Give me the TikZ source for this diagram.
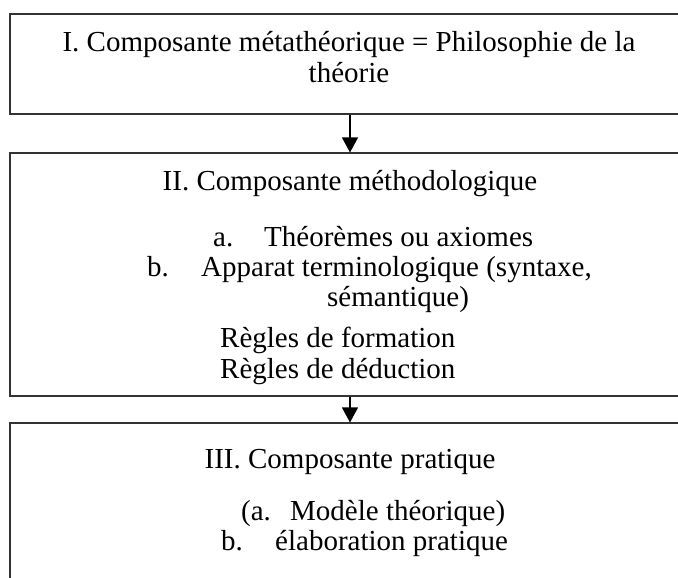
\documentclass[tikz,border=0pt]{standalone}
\usepackage{fontspec}
\setmainfont{Liberation Serif}
\usetikzlibrary{arrows.meta}
\begin{document}
\begin{tikzpicture}[x=1pt,y=-1pt,
  frame/.style={draw=black!80,line width=1.1pt,rectangle,inner sep=0pt,minimum width=680pt},
  txt/.style={inner sep=0pt,font=\fontsize{29}{31}\selectfont},
  txtl/.style={txt,anchor=base west},
  txtc/.style={txt,anchor=base},
  arr/.style={line width=1.1pt,-{Triangle[length=15pt,width=16pt]}}]
  \path[use as bounding box,clip] (0,0) rectangle (678,578);
  \fill[white] (0,0) rectangle (678,578);

  % the three frames (right side and bottom run off the page)
  \node[frame,minimum height=100pt] (b1) at (350,64) {};
  \node[frame,minimum height=243pt] (b2) at (350,274.5) {};
  \node[frame,minimum height=197pt] (b3) at (350,521.5) {};

  \draw[arr] (b1.south) -- (b2.north);
  \draw[arr] (b2.south) -- (b3.north);

  % first frame
  \node[txtc] (t1a) at (349,52) {I. Composante métathéorique = Philosophie de la};
  \node[txtc] (t1b) at (349,83) {théorie};

  % second frame
  \node[txtc] (t2) at (350,190) {II. Composante méthodologique};
  \node[txtl] (t2a) at (213,246) {a.};
  \node[txtl] (t2at) at (264,246) {Théorèmes ou axiomes};
  \node[txtl] (t2b) at (147,276) {b.};
  \node[txtl] (t2bt) at (201,276) {Apparat terminologique (syntaxe,};
  \node[txtl] (t2bs) at (327,306) {sémantique)};
  \node[txtl] (t2c) at (220,347) {Règles de formation};
  \node[txtl] (t2d) at (220,378) {Règles de déduction};

  % third frame
  \node[txtc] (t3) at (350,468) {III. Composante pratique};
  \node[txtl] (t3a) at (241,520) {(a.};
  \node[txtl] (t3at) at (290,520) {Modèle théorique)};
  \node[txtl] (t3b) at (221,550) {b.};
  \node[txtl] (t3bt) at (275,550) {élaboration pratique};
\end{tikzpicture}
\end{document}
